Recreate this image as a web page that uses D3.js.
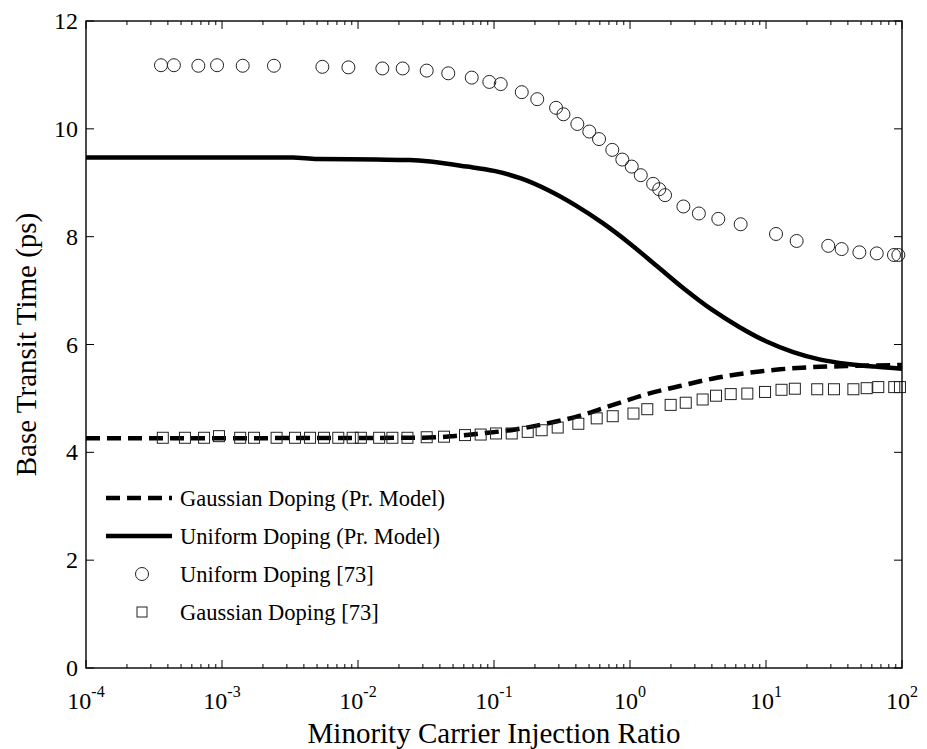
<!DOCTYPE html>
<html>
<head>
<meta charset="utf-8">
<script src="https://cdn.jsdelivr.net/npm/d3@7/dist/d3.min.js"></script>
<style>
  body { margin: 0; background: #fff; }
  svg text { font-family: "Liberation Serif", "Times New Roman", serif; fill: #000; }
</style>
</head>
<body>
<div id="chart"></div>
<script>
// Uniform doping, present model (solid)
const uniformModelX = [1e-4, 3.3e-3, 5e-3, 0.0138, 0.024, 0.063, 0.1, 0.158, 0.251, 0.398, 0.631, 1, 1.585, 2.512,
  3.981, 6.31, 10, 15.85, 25.12, 39.81, 63.1, 100];
const uniformModelY = [9.47, 9.47, 9.44, 9.43, 9.42, 9.30, 9.22, 9.08, 8.86, 8.58, 8.25, 7.87, 7.45, 7.03,
  6.65, 6.33, 6.06, 5.86, 5.72, 5.64, 5.59, 5.55];

// Gaussian doping, present model (dashed)
const gaussModelX = [1e-4, 0.03, 0.05, 0.08, 0.14, 0.24, 0.43, 0.75, 1.33, 2.33, 4.1, 7.2, 12.7, 22, 39, 100];
const gaussModelY = [4.26, 4.27, 4.30, 4.35, 4.42, 4.53, 4.68, 4.88, 5.08, 5.23, 5.37, 5.47, 5.54, 5.58, 5.60, 5.62];

// Uniform doping [73] (circles)
const uniformRefX = [3.56e-4, 4.43e-4, 6.7e-4, 9.2e-4, 1.42e-3, 2.41e-3, 5.47e-3, 8.5e-3, 0.0151, 0.0213, 0.032, 0.0461,
  0.0686, 0.0924, 0.112, 0.160, 0.208, 0.286, 0.324, 0.410, 0.502, 0.592, 0.741, 0.878, 1.03, 1.20, 1.48, 1.64, 1.81,
  2.47, 3.21, 4.46, 6.51, 11.85, 16.8, 28.7, 36.0, 48.6, 65.2, 87.3, 94];
const uniformRefY = [11.18, 11.18, 11.17, 11.18, 11.17, 11.17, 11.15, 11.14, 11.12, 11.12, 11.08, 11.03,
  10.95, 10.87, 10.83, 10.68, 10.55, 10.39, 10.27, 10.09, 9.95, 9.81, 9.61, 9.43, 9.30, 9.14, 8.98, 8.88, 8.77,
  8.56, 8.43, 8.33, 8.23, 8.05, 7.92, 7.83, 7.77, 7.71, 7.69, 7.66, 7.66];

// Gaussian doping [73] (squares)
const gaussRefX = [3.67e-4, 5.34e-4, 7.38e-4, 9.5e-4, 1.36e-3, 1.72e-3, 2.52e-3, 3.44e-3, 4.44e-3, 5.62e-3, 7.16e-3,
  9.14e-3, 0.0105, 0.0143, 0.0179, 0.0231, 0.032, 0.0429, 0.0612, 0.0798, 0.1035, 0.135, 0.177, 0.224, 0.294, 0.417,
  0.569, 0.746, 1.06, 1.34, 1.99, 2.57, 3.42, 4.29, 5.50, 7.29, 9.84, 13.0, 16.3, 23.8, 31.6, 43.9, 55.0, 66.9, 87.7, 96.6];
const gaussRefY = [4.27, 4.27, 4.27, 4.30, 4.27, 4.27, 4.27, 4.27, 4.27, 4.27, 4.27,
  4.27, 4.27, 4.27, 4.27, 4.27, 4.28, 4.29, 4.32, 4.33, 4.35, 4.35, 4.38, 4.41, 4.46, 4.53,
  4.63, 4.67, 4.72, 4.80, 4.88, 4.92, 4.98, 5.05, 5.08, 5.09, 5.12, 5.16, 5.18, 5.17, 5.17, 5.17, 5.19, 5.21, 5.21, 5.21];

const xTickExps = [-4, -3, -2, -1, 0, 1, 2];
const yTicks = [0, 2, 4, 6, 8, 10, 12];
const legendLabels = ["Gaussian Doping (Pr. Model)", "Uniform Doping (Pr. Model)", "Uniform Doping [73]", "Gaussian Doping [73]"];

const W = 927, H = 749;
const margin = { left: 86, right: W - 902, top: 21, bottom: H - 668 };
const iw = W - margin.left - margin.right;
const ih = H - margin.top - margin.bottom;

const svg = d3.select('#chart').append('svg')
  .attr('width', W).attr('height', H);

const g = svg.append('g').attr('transform', `translate(${margin.left},${margin.top})`);

const x = d3.scaleLog().domain([1e-4, 1e2]).range([0, iw]);
const y = d3.scaleLinear().domain([0, 12]).range([ih, 0]);

// ticks (inward, mirrored on top/right)
const minorX = [];
for (let e = -4; e < 2; e++) for (let m = 2; m <= 9; m++) minorX.push(m * Math.pow(10, e));

const ticks = g.append('g').attr('stroke', '#000').attr('stroke-width', 1);
xTickExps.forEach(e => {
  const px = x(Math.pow(10, e));
  ticks.append('line').attr('x1', px).attr('x2', px).attr('y1', ih).attr('y2', ih - 8);
  ticks.append('line').attr('x1', px).attr('x2', px).attr('y1', 0).attr('y2', 8);
});
minorX.forEach(v => {
  const px = x(v);
  ticks.append('line').attr('x1', px).attr('x2', px).attr('y1', ih).attr('y2', ih - 4);
  ticks.append('line').attr('x1', px).attr('x2', px).attr('y1', 0).attr('y2', 4);
});
yTicks.forEach(v => {
  const py = y(v);
  ticks.append('line').attr('x1', 0).attr('x2', 8).attr('y1', py).attr('y2', py);
  ticks.append('line').attr('x1', iw).attr('x2', iw - 8).attr('y1', py).attr('y2', py);
});

// tick labels
g.append('g').selectAll('text').data(yTicks).enter().append('text')
  .attr('x', -8).attr('y', d => y(d) + 8)
  .attr('text-anchor', 'end').style('font-size', '24px')
  .text(d => d);

const xl = g.append('g').selectAll('text').data(xTickExps).enter().append('text')
  .attr('x', d => x(Math.pow(10, d)))
  .attr('y', ih + 41)
  .attr('text-anchor', 'middle').style('font-size', '24px');
xl.append('tspan').text('10');
xl.append('tspan').attr('dy', -12).style('font-size', '16px').text(d => d);

// axis titles
g.append('text')
  .attr('x', iw / 2).attr('y', ih + 75)
  .attr('text-anchor', 'middle').style('font-size', '29px')
  .text('Minority Carrier Injection Ratio');
g.append('text')
  .attr('transform', `translate(${-50},${ih / 2}) rotate(-90)`)
  .attr('text-anchor', 'middle').style('font-size', '29px')
  .text('Base Transit Time (ps)');

// model curves
const line = d3.line().x(d => x(d[0])).y(d => y(d[1])).curve(d3.curveMonotoneX);
const uniformModel = uniformModelX.map((v, i) => [v, uniformModelY[i]]);
const gaussModel = gaussModelX.map((v, i) => [v, gaussModelY[i]]);

g.append('path').datum(uniformModel).attr('d', line)
  .attr('fill', 'none').attr('stroke', '#000').attr('stroke-width', 4.5);
g.append('path').datum(gaussModel).attr('d', line)
  .attr('fill', 'none').attr('stroke', '#000').attr('stroke-width', 4.5)
  .attr('stroke-dasharray', '14,7');

// reference markers
g.append('g').selectAll('circle').data(uniformRefX).enter().append('circle')
  .attr('cx', d => x(d)).attr('cy', (d, i) => y(uniformRefY[i])).attr('r', 6.5)
  .attr('fill', 'none').attr('stroke', '#222').attr('stroke-width', 1);

const sq = 11;
g.append('g').selectAll('rect').data(gaussRefX).enter().append('rect')
  .attr('x', d => x(d) - sq / 2).attr('y', (d, i) => y(gaussRefY[i]) - sq / 2)
  .attr('width', sq).attr('height', sq)
  .attr('fill', 'none').attr('stroke', '#222').attr('stroke-width', 1);

// frame
g.append('rect').attr('width', iw).attr('height', ih)
  .attr('fill', 'none').attr('stroke', '#000').attr('stroke-width', 1.4);

// legend
const leg = svg.append('g');
const rowY = [498, 536, 574, 612];
const lx0 = 106, lx1 = 172, tx = 180;
leg.append('line').attr('x1', lx0).attr('x2', lx1).attr('y1', rowY[0]).attr('y2', rowY[0])
  .attr('stroke', '#000').attr('stroke-width', 4.5).attr('stroke-dasharray', '14,7');
leg.append('line').attr('x1', lx0).attr('x2', lx1).attr('y1', rowY[1]).attr('y2', rowY[1])
  .attr('stroke', '#000').attr('stroke-width', 4.5);
leg.append('circle').attr('cx', 142).attr('cy', rowY[2]).attr('r', 6.5)
  .attr('fill', 'none').attr('stroke', '#222').attr('stroke-width', 1);
leg.append('rect').attr('x', 142 - 5).attr('y', rowY[3] - 5).attr('width', 10).attr('height', 10)
  .attr('fill', 'none').attr('stroke', '#222').attr('stroke-width', 1);
leg.selectAll('text.lab').data(legendLabels).enter().append('text')
  .attr('class', 'lab')
  .attr('x', tx).attr('y', (d, i) => rowY[i] + 8)
  .style('font-size', '22.5px')
  .text(d => d);
</script>
</body>
</html>
